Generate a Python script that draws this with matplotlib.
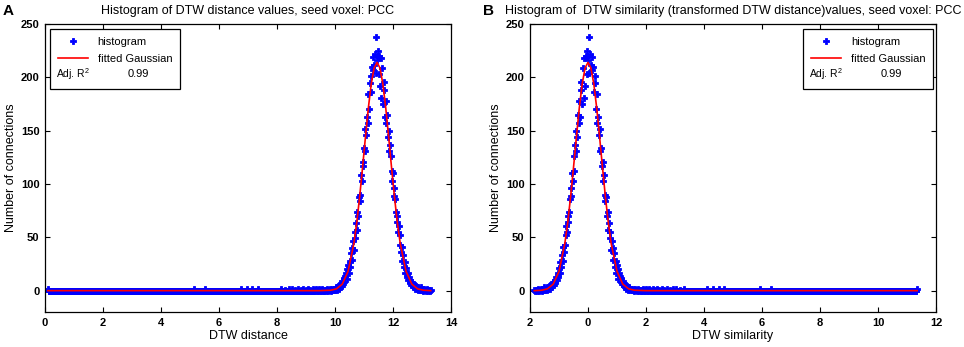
import numpy as np
import matplotlib.pyplot as plt
from matplotlib.lines import Line2D

plt.rcParams['font.family'] = ['Liberation Sans', 'DejaVu Sans']

# histogram bins of the DTW distance values
BIN_START = 0.10
BIN_WIDTH = 0.025
N_BINS = 529
dist_centers = BIN_START + BIN_WIDTH * np.arange(N_BINS)

# counts of the bins from 9.600 up to 13.300 (peak region)
peak_counts = [
    1, 0, 1, 0, 1, 2, 0, 1, 1, 2, 1, 0, 2, 1, 1, 2,
    1, 3, 2, 1, 4, 2, 5, 3, 6, 4, 9, 6, 12, 8, 14, 17, 11, 20, 24, 17, 28, 22, 35, 29,
    40, 47, 38, 55, 49, 63, 57, 74, 70, 88, 84, 90, 108, 103, 121, 117,
    134, 131, 152, 146, 163, 157, 184, 170, 195, 201, 186, 210, 207, 219, 212, 222, 204, 238, 216,
    225, 203, 220, 192, 218, 181, 209, 175, 196, 188,
    163, 178, 157, 165, 144, 150, 131, 137, 126, 112,
    103, 110, 89, 96, 86, 74, 64, 70, 55, 61,
    52, 43, 36, 41, 28, 33, 22, 27, 17, 21,
    13, 17, 10, 13, 7, 10, 5, 8, 4, 6,
    3, 5, 2, 4,
    2, 3, 1, 2, 1, 3, 1, 2, 0, 1, 2, 1, 0, 1, 2, 0, 1, 1, 0, 1,
]

# isolated non-empty bins in the long left tail
tail_x = [0.10, 5.125, 5.525, 6.775, 6.95, 7.125, 7.35, 8.15, 8.275, 8.425,
          8.525, 8.625, 8.725, 8.825, 8.90, 9.00, 9.075, 9.15, 9.225, 9.30,
          9.35, 9.40, 9.45, 9.50, 9.55]
tail_counts = [2, 2, 2, 2, 2, 2, 2, 2, 1, 2,
               2, 1, 2, 1, 2, 1, 2, 1, 2, 1,
               2, 1, 2, 1, 2]

# fitted Gaussian (distance axis)
fit_x = [0.10, 9.45, 9.85, 10.05, 10.25, 10.45, 10.65, 10.75, 10.85, 10.95,
         11.05, 11.15, 11.25, 11.35, 11.45, 11.55, 11.65, 11.75, 11.85, 11.95,
         12.05, 12.15, 12.25, 12.45, 12.65, 12.85, 13.05, 13.30]
fit_y = [0, 0, 0.4, 1.7, 6.1, 18.1, 44.1, 63.8, 88.0, 115.4,
         144.1, 171.3, 193.9, 208.8, 214.0, 208.8, 193.9, 171.3, 144.1, 115.4,
         88.0, 63.8, 44.1, 18.1, 6.1, 1.7, 0.4, 0]

adj_r2 = '0.99'

# similarity = 11.45 - distance (transformed DTW distance)
SIM_SHIFT = 11.45

dist_counts = np.zeros(N_BINS)
dist_counts[-len(peak_counts):] = peak_counts
for x, c in zip(tail_x, tail_counts):
    dist_counts[int(round((x - BIN_START) / BIN_WIDTH))] = c

sim_centers = SIM_SHIFT - dist_centers
sim_fit_x = SIM_SHIFT - np.array(fit_x)

dist_ticks = [0, 2, 4, 6, 8, 10, 12, 14]
dist_ticklabels = ['0', '2', '4', '6', '8', '10', '12', '14']
sim_ticks = [-2, 0, 2, 4, 6, 8, 10, 12]
sim_ticklabels = ['2', '0', '2', '4', '6', '8', '10', '12']
y_ticks = [0, 50, 100, 150, 200, 250]

MS = 4.6


def draw_panel(ax, centers, counts, fx, fy, xlim, ticks, ticklabels,
               xlabel, title, legend_loc, legend_anchor):
    ax.plot(centers, counts, ls='none', marker='P', ms=MS, mew=0.6,
            color='blue', zorder=2)
    ax.plot(fx, fy, color='red', lw=1.2, zorder=3)
    ax.set_xlim(*xlim)
    ax.set_ylim(-20, 250)
    ax.set_xticks(ticks)
    ax.set_xticklabels(ticklabels)
    ax.set_yticks(y_ticks)
    ax.tick_params(direction='in', top=True, right=True, length=3.5,
                   width=0.8, labelsize=8, pad=4)
    for lab in ax.get_xticklabels() + ax.get_yticklabels():
        lab.set_fontweight('bold')
    for sp in ax.spines.values():
        sp.set_linewidth(0.9)
    ax.set_xlabel(xlabel, fontsize=9, labelpad=2)
    ax.set_ylabel('Number of connections', fontsize=9, labelpad=3)
    ax.set_title(title, fontsize=9, pad=7)

    h1 = Line2D([], [], ls='none', marker='P', ms=MS, mew=0.6, color='blue')
    h2 = Line2D([], [], color='red', lw=1.2)
    h3 = Line2D([], [], color='none')
    leg = ax.legend([h1, h2, h3], ['histogram', 'fitted Gaussian', 'Adj'],
                    loc=legend_loc, bbox_to_anchor=legend_anchor,
                    borderaxespad=0, fancybox=False, edgecolor='black',
                    framealpha=1, fontsize=8, handlelength=2.7,
                    handletextpad=0.9, borderpad=0.7, labelspacing=0.65)
    leg.get_texts()[2].set_color('none')
    leg.get_frame().set_linewidth(0.9)
    ax.annotate(r'Adj. R$^{\mathregular{2}}$', xy=(0.045, 0.24), xycoords=leg,
                fontsize=7.5, ha='left', va='center', zorder=10)
    ax.annotate(adj_r2, xy=(0.68, 0.24), xycoords=leg,
                fontsize=8, ha='center', va='center', zorder=10)


fig = plt.figure(figsize=(9.64, 3.47), dpi=100)
ax_a = fig.add_axes([45 / 964, 1 - 312 / 347, 406 / 964, 288 / 347])
ax_b = fig.add_axes([530 / 964, 1 - 312 / 347, 406 / 964, 288 / 347])

draw_panel(ax_a, dist_centers, dist_counts, fit_x, fit_y, (0, 14),
           dist_ticks, dist_ticklabels, 'DTW distance',
           'Histogram of DTW distance values, seed voxel: PCC',
           'upper left', (0.012, 0.983))
draw_panel(ax_b, sim_centers, dist_counts, sim_fit_x, fit_y, (-2, 12),
           sim_ticks, sim_ticklabels, 'DTW similarity',
           'Histogram of  DTW similarity (transformed DTW distance)values, seed voxel: PCC',
           'upper right', (0.993, 0.983))

fig.text(3 / 964, 1 - 11 / 347, 'A', fontsize=11, fontweight='bold', va='center')
fig.text(483 / 964, 1 - 11 / 347, 'B', fontsize=11, fontweight='bold', va='center')

fig.savefig('out.png', dpi=100)
